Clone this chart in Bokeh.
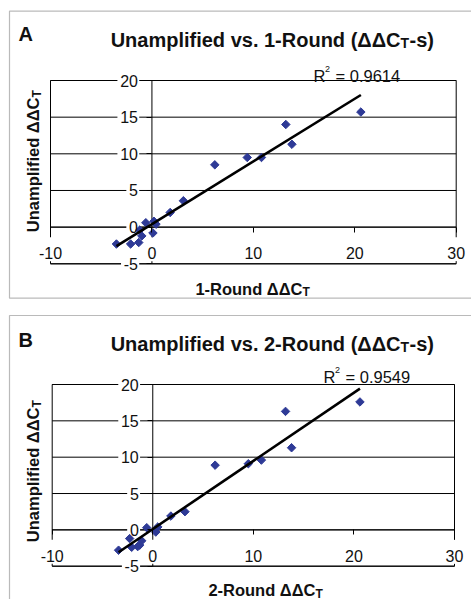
import math
import numpy as np
from bokeh.plotting import figure
from bokeh.models import Range1d, FixedTicker, Label, BoxAnnotation
from bokeh.layouts import column
from bokeh.embed import file_html
from bokeh.resources import INLINE

# ---------------- data ----------------
a_x = [20.6, 13.2, 13.8, 9.4, 10.8, 6.2, 3.1, 1.8, 0.4, 0.2, -0.6, 0.1, -1.2, -1.0, -1.3, -2.1, -3.5]
a_y = [15.7, 14.0, 11.3, 9.5, 9.5, 8.5, 3.6, 2.0, 0.4, 0.8, 0.6, -0.8, -0.4, -1.2, -2.1, -2.3, -2.3]

b_x = [20.6, 13.2, 13.8, 10.8, 9.5, 6.2, 3.2, 1.8, -0.6, 0.5, 0.3, -2.3, -1.1, -1.3, -1.5, -2.1, -3.4]
b_y = [17.6, 16.3, 11.3, 9.6, 9.1, 8.9, 2.5, 1.9, 0.3, 0.4, -0.3, -1.2, -1.5, -2.1, -2.3, -2.4, -2.8]

x_ticks = [-10, 0, 10, 20, 30]
y_ticks = [-5, 0, 5, 10, 15, 20]
x_limits = (-10, 30)
y_limits = (-5, 20)
axis_cross = 0

panel_letters = ["A", "B"]
round_names = ["1-Round", "2-Round"]
r2_texts = ["0.9614", "0.9549"]

FONT = "Liberation Sans"
MARK = "#2E3A96"
INK = "#111111"
W = 471


def txt(p, x, y, s, size, bold=False, align="left", angle=0.0):
    p.add_layout(Label(x=x, y=y, x_units="screen", y_units="screen", text=s,
                       text_font=FONT, text_font_size=f"{size}px",
                       text_font_style="bold" if bold else "normal",
                       text_align=align, text_baseline="alphabetic",
                       angle=angle, text_color=INK))


def label_width(t):
    return sum(8.9 if ch.isdigit() else 5.3 for ch in str(t))


def make_panel(xs, ys, letter, rname, r2, g):
    H = g["h"]
    box = g["box"]
    ux = (x_limits[1] - x_limits[0]) / (box["right"] - box["left"])   # data per px
    uy = (y_limits[1] - y_limits[0]) / (box["bottom"] - box["top"])
    xr = Range1d(x_limits[0] - box["left"] * ux, x_limits[1] + (W - box["right"]) * ux)
    yr = Range1d(y_limits[0] - (H - box["bottom"]) * uy, y_limits[1] + box["top"] * uy)

    p = figure(width=W, height=H, x_range=xr, y_range=yr, title=None,
               tools="", toolbar_location=None, output_backend="svg", min_border=0)
    p.background_fill_color = "white"
    p.border_fill_color = "white"
    p.outline_line_color = None
    p.xgrid.visible = False
    p.ygrid.visible = False

    # grid lines, plot-area box and axis lines
    n = len(y_ticks)
    p.segment(x0=[x_limits[0]] * n, y0=y_ticks, x1=[x_limits[1]] * n, y1=y_ticks,
              line_color="black", line_width=1, level="underlay")
    p.quad(left=[x_limits[0]], right=[x_limits[1]], bottom=[y_limits[0]], top=[y_limits[1]],
           fill_color=None, line_color="black", line_width=1, level="underlay")
    p.segment(x0=[x_limits[0], axis_cross], y0=[axis_cross, y_limits[0]],
              x1=[x_limits[1], axis_cross], y1=[axis_cross, y_limits[1]],
              line_color="black", line_width=1, level="underlay")

    # white backgrounds behind the tick labels (Excel style)
    yw = [label_width(t) for t in y_ticks]
    p.rect(x=[axis_cross - (14.7 + w / 2) * ux for w in yw], y=y_ticks,
           width=[w + 4 for w in yw], height=16, width_units="screen", height_units="screen",
           fill_color="white", line_color=None, level="underlay")
    xw = [label_width(t) for t in x_ticks]
    p.rect(x=x_ticks, y=[axis_cross - 22 * uy] * len(x_ticks),
           width=[w + 4 for w in xw], height=24, width_units="screen", height_units="screen",
           fill_color="white", line_color=None, level="underlay")

    p.xaxis.fixed_location = axis_cross
    p.yaxis.fixed_location = axis_cross
    p.xaxis.bounds = x_limits
    p.yaxis.bounds = y_limits
    p.xaxis.ticker = FixedTicker(ticks=x_ticks)
    p.yaxis.ticker = FixedTicker(ticks=y_ticks)
    p.xaxis.major_label_overrides = {t: str(t) for t in x_ticks}
    p.yaxis.major_label_overrides = {t: str(t) for t in y_ticks}
    for ax in (p.xaxis[0], p.yaxis[0]):
        ax.axis_line_color = None
        ax.major_tick_line_color = "black"
        ax.major_tick_in = 0
        ax.major_tick_out = 5
        ax.minor_tick_line_color = None
        ax.major_label_text_font = FONT
        ax.major_label_text_font_size = "16px"
        ax.major_label_text_color = INK
    p.xaxis[0].major_label_standoff = 15
    p.yaxis[0].major_label_standoff = 9

    p.scatter(xs, ys, marker="square", angle=math.pi / 4, size=6,
              fill_color=MARK, line_color=MARK)
    k, c = np.polyfit(xs, ys, 1)
    lx = np.array([min(xs), max(xs)])
    p.line(lx, k * lx + c, line_color="black", line_width=2.6)

    # outer panel frame
    ob = g["outer"]
    p.add_layout(BoxAnnotation(left=ob[0], right=ob[1], bottom=ob[2], top=ob[3],
                               left_units="screen", right_units="screen",
                               bottom_units="screen", top_units="screen",
                               fill_color=None, line_color="#1a1a1a", line_width=1.2))

    o = g["o"]
    txt(p, o["letter"][0], o["letter"][1], letter, 20, bold=True)
    tx, ty = o["title"]
    txt(p, tx, ty, f"Unamplified vs. {rname} (\u0394\u0394C", 20, bold=True, align="right")
    txt(p, tx, ty - 3, "T", 14, bold=True)
    txt(p, tx + 9, ty, "-s)", 20, bold=True)
    rx, ry = o["r2"]
    txt(p, rx, ry, "R", 16.5)
    txt(p, rx + 11.5, ry + 7, "2", 9)
    txt(p, rx + 22, ry, f"= {r2}", 16.5)
    xx, xy = o["xlab"]
    txt(p, xx, xy, f"{rname} \u0394\u0394C", 16.5, bold=True, align="right")
    txt(p, xx, xy - 3.5, "T", 12, bold=True)
    yx, yy = o["ylab"]
    txt(p, yx, yy, "Unamplified \u0394\u0394C", 16.5, bold=True, align="right", angle=math.pi / 2)
    txt(p, yx + 4, yy, "T", 12, bold=True, angle=math.pi / 2)
    return p


geom_a = dict(h=306,
              box=dict(left=50, right=455.7, top=80, bottom=263.3),
              outer=(9, 700, 8.3, 295.3),
              o=dict(letter=(18, 272.7), title=(400, 266.7), r2=(313, 231),
                     xlab=(302, 17.7), ylab=(32, 209)))
geom_b = dict(h=293,
              box=dict(left=51.7, right=454, top=78, bottom=259.7),
              outer=(9, 700, -50, 284),
              o=dict(letter=(18, 259.7), title=(400, 255.5), r2=(323, 222.3),
                     xlab=(315, 9.5), ylab=(32, 192)))

pa = make_panel(a_x, a_y, panel_letters[0], round_names[0], r2_texts[0], geom_a)
pb = make_panel(b_x, b_y, panel_letters[1], round_names[1], r2_texts[1], geom_b)

layout = column(pa, pb, spacing=0)
open("out.html", "w").write(file_html(layout, INLINE))
